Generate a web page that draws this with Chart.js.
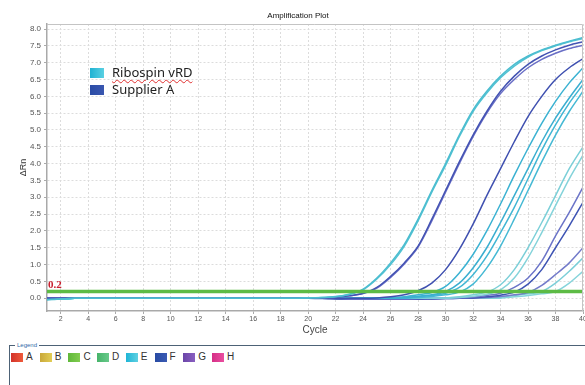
<!DOCTYPE html>
<html>
<head>
<meta charset="utf-8">
<script src="https://cdn.jsdelivr.net/npm/chart.js@4.4.1/dist/chart.umd.min.js"></script>
<style>
body { margin: 0; background: #fff; }
#wrap { position: relative; width: 585px; height: 385px; overflow: hidden; background: #fff; }
#plot { position: absolute; left: 0; top: 0; }
#title { position: absolute; left: 198px; width: 200px; top: 11px; text-align: center; font-family: "Liberation Sans", sans-serif; font-size: 8px; line-height: 10px; color: #111; }
.key { position: absolute; left: 112px; font-family: "Noto Sans", sans-serif; font-size: 13px; color: #222; line-height: 15px; }
.keysw { position: absolute; left: 90px; width: 14px; height: 10px; }
.spell { text-decoration: underline wavy #e03030; text-decoration-thickness: 1px; text-underline-offset: 2px; }
#legBox { position: absolute; left: 9px; top: 345px; width: 600px; height: 60px; border-top: 1px solid #4d6276; border-left: 1px solid #4d6276; }
#legTitle { position: absolute; left: 15px; top: 341px; padding: 0 2px; background: #fff; font-family: "Liberation Sans", sans-serif; font-size: 6px; color: #2f6aa8; line-height: 8px; }
.lsw { position: absolute; top: 353px; width: 12px; height: 9px; }
.llab { position: absolute; top: 351px; font-family: "Liberation Sans", sans-serif; font-size: 10px; color: #333; line-height: 12px; }
</style>
</head>
<body>
<div id="wrap">
  <canvas id="plot" width="585" height="340"></canvas>
  <div id="title">Amplification Plot</div>
  <div class="keysw" style="top:68px;background:linear-gradient(90deg,#20b2d3,#5ad0e2);"></div>
  <div class="key" style="top:65px;"><span class="spell">Ribospin vRD</span></div>
  <div class="keysw" style="top:85px;background:linear-gradient(90deg,#2b4ca6,#3a57b0);"></div>
  <div class="key" style="top:82px;">Supplier A</div>
  <div id="legBox"></div>
  <div id="legTitle">Legend</div>
  <div id="legItems"></div>
</div>
<script>
// cycles and ΔRn readings
const cycles = [1,2,3,4,5,6,7,8,9,10,11,12,13,14,15,16,17,18,19,20,21,22,23,24,25,26,27,28,29,30,31,32,33,34,35,36,37,38,39,40];

const ribo1 = [-0.05,-0.02,0,0,0,0,0,0,0,0, 0,0,0,0,0,0,0,0,0,0.01, 0.02,0.05,0.12,0.27,0.6,1.05,1.6,2.35,3.2,4.0, 4.85,5.6,6.15,6.6,6.95,7.2,7.38,7.52,7.64,7.75];
const ribo2 = [-0.04,-0.02,0,0,0,0,0,0,0,0, 0,0,0,0,0,0,0,0,0,0.01, 0.02,0.04,0.11,0.25,0.57,1.0,1.55,2.3,3.15,3.95, 4.8,5.55,6.1,6.55,6.9,7.17,7.36,7.5,7.62,7.72];
const ribo3 = [-0.03,-0.01,0,0,0,0,0,0,0,0, 0,0,0,0,0,0,0,0,0,0, 0,0,0,0,0,0.01,0.04,0.1,0.17,0.35, 0.75,1.3,2.0,2.8,3.65,4.45,5.2,5.85,6.4,6.85];
const ribo4 = [-0.03,-0.01,0,0,0,0,0,0,0,0, 0,0,0,0,0,0,0,0,0,0, 0,0,0,0,0,0,0.02,0.06,0.1,0.2, 0.45,0.9,1.5,2.25,3.05,3.85,4.65,5.35,5.95,6.5];
const ribo5 = [-0.03,-0.01,0,0,0,0,0,0,0,0, 0,0,0,0,0,0,0,0,0,0, 0,0,0,0,0,0,0.01,0.04,0.08,0.15, 0.32,0.7,1.25,1.95,2.7,3.55,4.4,5.15,5.8,6.35];
const ribo6 = [-0.03,-0.01,0,0,0,0,0,0,0,0, 0,0,0,0,0,0,0,0,0,0, 0,0,0,0,0,0,0,0.02,0.05,0.1, 0.18,0.42,0.9,1.55,2.35,3.2,4.05,4.85,5.55,6.15];
const ribo7 = [-0.02,-0.01,0,0,0,0,0,0,0,0, 0,0,0,0,0,0,0,0,0,0, 0,0,0,0,0,0,0,0,0,0.01, 0.04,0.1,0.18,0.4,0.85,1.5,2.25,3.05,3.85,4.5];
const ribo8 = [-0.02,-0.01,0,0,0,0,0,0,0,0, 0,0,0,0,0,0,0,0,0,0, 0,0,0,0,0,0,0,0,0,0, 0.02,0.06,0.12,0.25,0.6,1.2,1.95,2.75,3.55,4.25];
const ribo9 = [-0.02,-0.01,0,0,0,0,0,0,0,0, 0,0,0,0,0,0,0,0,0,0, 0,0,0,0,-0.01,-0.01,-0.01,0,0,0, 0,0,0,0.03,0.08,0.13,0.2,0.45,0.8,1.2];
const ribo10 = [-0.02,-0.01,0,0,0,0,0,0,0,0, 0,0,0,0,0,0,0,0,0,0, 0,0,0,0,-0.01,-0.01,-0.01,-0.01,0,0, 0,0,0,0,0.04,0.08,0.13,0.2,0.45,0.8];

const supA1 = [0,0,0,0,0,0,0,0,0,0, 0,0,0,0,0,0,0,0,0,0, 0.01,0.03,0.07,0.15,0.32,0.65,1.05,1.55,2.35,3.2, 4.05,4.85,5.55,6.15,6.6,6.95,7.2,7.38,7.52,7.62];
const supA2 = [0,0,0,0,0,0,0,0,0,0, 0,0,0,0,0,0,0,0,0,0, 0.01,0.03,0.07,0.14,0.3,0.62,1.02,1.52,2.3,3.15, 4.0,4.8,5.5,6.08,6.5,6.85,7.1,7.28,7.42,7.52];
const supA3 = [0,0,0,0,0,0,0,0,0,0, 0,0,0,0,0,0,0,0,0,0, -0.01,-0.01,0,0,0.01,0.04,0.1,0.22,0.45,0.85, 1.45,2.2,3.05,3.85,4.65,5.4,6.0,6.5,6.85,7.12];
const supA4 = [0,0,0,0,0,0,0,0,0,0, 0,0,0,0,0,0,0,0,0,0, 0,-0.01,-0.02,-0.02,-0.02,-0.02,-0.02,-0.01,0,0, 0.01,0.03,0.08,0.15,0.32,0.6,1.1,1.85,2.55,3.3];
const supA5 = [0,0,0,0,0,0,0,0,0,0, 0,0,0,0,0,0,0,0,0,0, 0,-0.02,-0.03,-0.03,-0.03,-0.03,-0.03,-0.03,-0.02,-0.01, 0,0.01,0.04,0.09,0.18,0.42,0.85,1.5,2.15,2.85];
const supA6 = [0,0,0,0,0,0,0,0,0,0, 0,0,0,0,0,0,0,0,0,0, 0,-0.01,-0.02,-0.03,-0.03,-0.03,-0.03,-0.02,-0.02,-0.01, 0,0,0.02,0.05,0.1,0.17,0.38,0.7,1.05,1.5];

const threshold = 0.2;
const thresholdLabel = '0.2';
const yTickStep = 0.5;
const xTickStep = 2;
const plateLetters = ['A','B','C','D','E','F','G','H'];
const plateColors = [['#d2322a','#ef5a3a'],['#c9a83a','#e2cd55'],['#5fb83a','#82cc4f'],['#46b46a','#68c98a'],['#1fb5d6','#5fd0e2'],['#284ba3','#3a5ab3'],['#6a45a8','#8a5fc0'],['#d52f86','#ea4ea0']];

function pts(vals) {
  return cycles.map((c, i) => ({ x: c, y: vals[i] }));
}
function curve(vals, color) {
  return { data: pts(vals), borderColor: color, borderWidth: 1.5, pointRadius: 0, tension: 0.3, fill: false };
}

const datasets = [
  { data: [{ x: cycles[0], y: threshold }, { x: cycles[cycles.length - 1], y: threshold }], borderColor: '#5dbb45', borderWidth: 3.5, pointRadius: 0 },
  curve(ribo1, '#4cbdd0'),
  curve(ribo2, '#52c3d3'),
  curve(supA1, '#4453b3'),
  curve(supA2, '#6a6fc6'),
  curve(supA3, '#3f50b0'),
  curve(ribo3, '#3bb2d2'),
  curve(ribo4, '#3aaed0'),
  curve(ribo5, '#41b6d4'),
  curve(ribo6, '#45b9d4'),
  curve(ribo7, '#7bcfd8'),
  curve(ribo8, '#84d3da'),
  curve(supA4, '#6b74c8'),
  curve(supA5, '#3e54b4'),
  curve(supA6, '#737bca'),
  curve(ribo9, '#7ccfd8'),
  curve(ribo10, '#86d4db')
];

const framePlugin = {
  id: 'frame',
  afterDraw(chart) {
    const { ctx, chartArea: a, scales: { y } } = chart;
    ctx.save();
    ctx.strokeStyle = '#c4c4c4';
    ctx.lineWidth = 1;
    ctx.beginPath();
    ctx.moveTo(a.left, a.top + 0.5);
    ctx.lineTo(a.right - 0.5, a.top + 0.5);
    ctx.lineTo(a.right - 0.5, a.bottom);
    ctx.stroke();
    ctx.fillStyle = '#c8202f';
    ctx.font = 'bold 11px "Liberation Serif", serif';
    ctx.textBaseline = 'bottom';
    ctx.fillText(thresholdLabel, a.left + 1, y.getPixelForValue(threshold) - 1);
    ctx.restore();
  }
};

new Chart(document.getElementById('plot').getContext('2d'), {
  type: 'line',
  data: { datasets: datasets },
  plugins: [framePlugin],
  options: {
    responsive: false,
    animation: false,
    devicePixelRatio: 1,
    layout: { padding: { left: 0, right: 2, top: 24, bottom: 0 } },
    plugins: {
      legend: { display: false },
      tooltip: { enabled: false },
      title: { display: false }
    },
    scales: {
      x: {
        type: 'linear',
        min: 1,
        max: 40,
        afterFit(s) { s.height = 29; s.paddingLeft = 0; s.paddingRight = 0; },
        ticks: { stepSize: xTickStep, includeBounds: false, maxRotation: 0, autoSkip: false, padding: 1, color: '#555', font: { family: 'Liberation Sans', size: 7 } },
        grid: { color: '#dcdcdc', tickLength: 3, tickColor: '#aaa' },
        border: { color: '#a9a9a9', width: 1.5, dash: [2, 2] },
        title: { display: true, text: 'Cycle', color: '#444', font: { family: 'Liberation Sans', size: 10 }, padding: { top: 0, bottom: 4 } }
      },
      y: {
        min: -0.38,
        max: 8.15,
        afterFit(s) { s.width = 47; s.paddingTop = 0; s.paddingBottom = 0; },
        ticks: { stepSize: yTickStep, includeBounds: false, autoSkip: false, padding: 3, color: '#555', font: { family: 'Liberation Sans', size: 8 }, callback: v => v.toFixed(1) },
        grid: { color: '#dcdcdc', tickLength: 3, tickColor: '#aaa' },
        border: { color: '#a9a9a9', width: 1.5, dash: [2, 2] },
        title: { display: true, text: 'ΔRn', color: '#333', font: { family: 'Liberation Sans', size: 9 }, padding: { top: 18, bottom: 0 } }
      }
    }
  }
});

// bottom plate legend
const items = document.getElementById('legItems');
plateLetters.forEach((letter, i) => {
  const left = 11 + i * 28.7;
  const sw = document.createElement('div');
  sw.className = 'lsw';
  sw.style.left = left + 'px';
  sw.style.background = 'linear-gradient(90deg,' + plateColors[i][0] + ',' + plateColors[i][1] + ')';
  items.appendChild(sw);
  const lab = document.createElement('div');
  lab.className = 'llab';
  lab.style.left = (left + 15) + 'px';
  lab.textContent = letter;
  items.appendChild(lab);
});
</script>
</body>
</html>
